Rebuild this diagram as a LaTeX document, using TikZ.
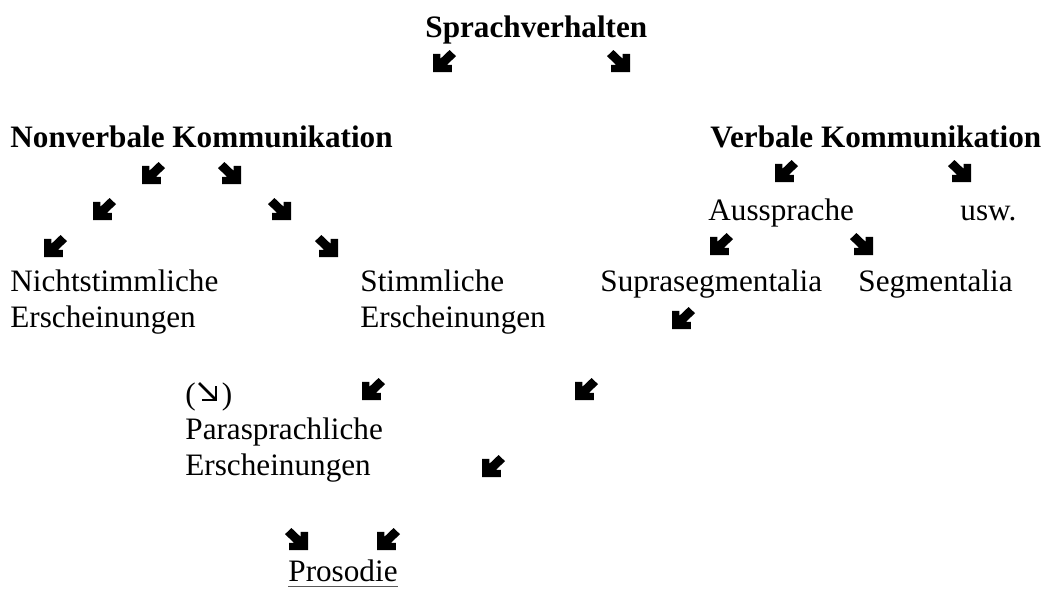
\documentclass[tikz,border=0pt]{standalone}
\usepackage{fontspec}
\setmainfont{Liberation Serif}
\tikzset{
  txt/.style={anchor=base west, inner sep=0pt, font=\fontsize{15.6pt}{17.5pt}\selectfont},
  btxt/.style={txt, font=\fontsize{15.6pt}{17.5pt}\selectfont\bfseries},
  sea/.pic={\fill[x=11.5pt,y=-11pt] (0.28,0) -- (0.68,0.4) -- (0.68,0.18) -- (1,0.18) -- (1,1) -- (0.18,1) -- (0.18,0.68) -- (0.4,0.68) -- (0,0.28) -- cycle;},
  swa/.pic={\fill[x=11.5pt,y=-11pt] (0.72,0) -- (0.32,0.4) -- (0.32,0.18) -- (0,0.18) -- (0,1) -- (0.82,1) -- (0.82,0.68) -- (0.6,0.68) -- (1,0.28) -- cycle;},
  thinse/.pic={\draw[line width=1.4pt, x=0.5pt, y=-0.5pt] (0,0) -- (16,16);
               \draw[line width=1.4pt, x=0.5pt, y=-0.5pt, line join=miter] (17,3) -- (17,17) -- (3,17);}
}
\begin{document}
\begin{tikzpicture}[x=0.5pt,y=-0.5pt]
\useasboundingbox[fill=white] (0,0) rectangle (1052,589);
% texts
\node[btxt] (spr) at (425,37) {Sprachverhalten};
\node[btxt] (nvk) at (10,147) {Nonverbale Kommunikation};
\node[btxt] (vk) at (710,147) {Verbale Kommunikation};
\node[txt] (aus) at (708,220) {Aussprache};
\node[txt] (usw) at (960,220) {usw.};
\node[txt] (nst1) at (10,291) {Nichtstimmliche};
\node[txt] (nst2) at (10,327) {Erscheinungen};
\node[txt] (st1) at (360,291) {Stimmliche};
\node[txt] (st2) at (360,327) {Erscheinungen};
\node[txt] (sup) at (600,291) {Suprasegmentalia};
\node[txt] (seg) at (858,291) {Segmentalia};
\node[txt] (par0) at (185,404) {(\hspace{13pt})};
\node[txt] (par1) at (185,439) {Parasprachliche};
\node[txt] (par2) at (185,475) {Erscheinungen};
\node[txt] (pros) at (288,581) {Prosodie};
\draw[line width=0.6pt, gray!70!black] ([yshift=-2.6pt]pros.base west) -- ([yshift=-2.6pt]pros.base east);
% arrows
\pic at (433,50) {swa};
\pic at (607,50) {sea};
\pic at (142,162) {swa};
\pic at (218,162) {sea};
\pic at (93,198) {swa};
\pic at (268,198) {sea};
\pic at (44,235) {swa};
\pic at (315,235) {sea};
\pic at (775,160) {swa};
\pic at (948,160) {sea};
\pic at (710,233) {swa};
\pic at (850,233) {sea};
\pic at (672,307) {swa};
\pic at (199,383) {thinse};
\pic at (362,378) {swa};
\pic at (575,378) {swa};
\pic at (482,455) {swa};
\pic at (285,528) {sea};
\pic at (377,528) {swa};
\end{tikzpicture}
\end{document}
